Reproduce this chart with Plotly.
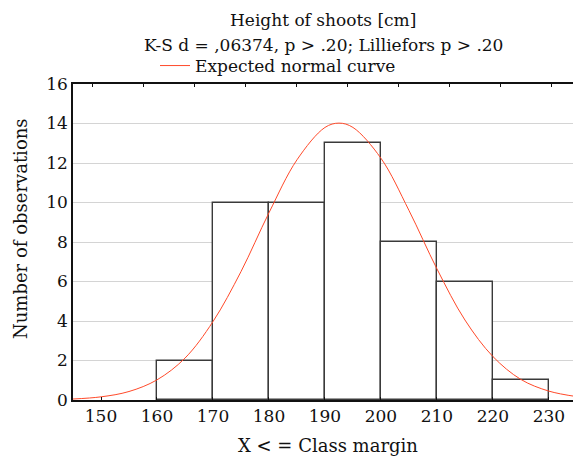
import plotly.graph_objects as go

# Histogram data
bin_lower = [160, 170, 180, 190, 200, 210, 220]
counts = [2, 10, 10, 13, 8, 6, 1]
bin_width = 10

# Expected normal curve
curve_x = [145, 150, 155, 160, 165, 170, 175, 180, 185, 190, 192.5, 195,
           200, 205, 210, 215, 220, 225, 230, 235]
curve_y = [0.05, 0.16, 0.43, 1.02, 2.12, 3.97, 6.5, 9.48, 12.16, 13.8, 14.02, 13.8,
           12.24, 9.6, 6.64, 4.05, 2.2, 1.04, 0.45, 0.17]

x_ticks = [150, 160, 170, 180, 190, 200, 210, 220, 230]
y_ticks = [0, 2, 4, 6, 8, 10, 12, 14, 16]

title_lines = ["Height of shoots [cm]",
               "K-S d = ,06374, p > .20; Lilliefors p > .20"]
x_title = "X < = Class margin"
y_title = "Number of observations"

FONT = "DejaVu Serif"

fig = go.Figure()
fig.add_trace(go.Bar(
    x=bin_lower, y=counts, width=bin_width, offset=0,
    marker=dict(color="white", line=dict(color="#3a3a3a", width=1.4)),
    showlegend=False, hoverinfo="x+y"))
fig.add_trace(go.Scatter(
    x=curve_x, y=curve_y, mode="lines", name="Expected normal curve",
    line=dict(color="#ff4a2a", width=1, shape="spline", smoothing=1.0)))

fig.update_layout(
    width=573, height=458,
    margin=dict(l=73, r=0, t=84, b=58),
    paper_bgcolor="white", plot_bgcolor="white",
    font=dict(family=FONT, size=16, color="#111"),
    bargap=0,
    showlegend=True,
    legend=dict(orientation="h", x=(155 - 73) / 500, xanchor="left", y=1.0,
                yanchor="bottom", font=dict(family=FONT, size=17), itemwidth=30,
                bgcolor="rgba(0,0,0,0)"),
    annotations=[
        dict(text=title_lines[0], x=0.5, y=1.0, xref="paper", yref="paper",
             xanchor="center", yanchor="bottom", yshift=52, showarrow=False,
             font=dict(family=FONT, size=17)),
        dict(text=title_lines[1], x=0.5, y=1.0, xref="paper", yref="paper",
             xanchor="center", yanchor="bottom", yshift=27, showarrow=False,
             font=dict(family=FONT, size=17)),
        dict(text=x_title, x=(328 - 73) / 500, y=0, xref="paper", yref="paper",
             xanchor="center", yanchor="middle", yshift=-45, showarrow=False,
             font=dict(family=FONT, size=18)),
        dict(text=y_title, x=0, y=(400 - 229) / 316, xref="paper", yref="paper",
             xanchor="center", yanchor="middle", xshift=-53, textangle=-90,
             showarrow=False, font=dict(family=FONT, size=18)),
    ],
    xaxis=dict(range=[145, 234.3], tickvals=x_ticks, ticks="inside", ticklen=3,
               tickcolor="#111", showline=True, linecolor="#111", linewidth=1.5,
               showgrid=False, zeroline=False,
               tickfont=dict(family=FONT, size=17)),
    xaxis2=dict(overlaying="x", side="top", range=[-0.373, 9.43],
                tickvals=list(range(10)), showticklabels=False,
                ticks="inside", ticklen=3, tickcolor="#111",
                showline=True, linecolor="#111", linewidth=1.5,
                showgrid=False, zeroline=False),
    yaxis=dict(range=[0, 16], tickvals=y_ticks, ticks="", showline=True,
               linecolor="#111", linewidth=1.5, showgrid=True,
               gridcolor="#d4d4d4", gridwidth=1, zeroline=False,
               tickfont=dict(family=FONT, size=17)),
)
# invisible trace to activate top axis
fig.add_trace(go.Scatter(x=[0], y=[0], xaxis="x2", mode="markers",
                         marker=dict(opacity=0), showlegend=False, hoverinfo="skip"))

fig.write_html("out.html")
